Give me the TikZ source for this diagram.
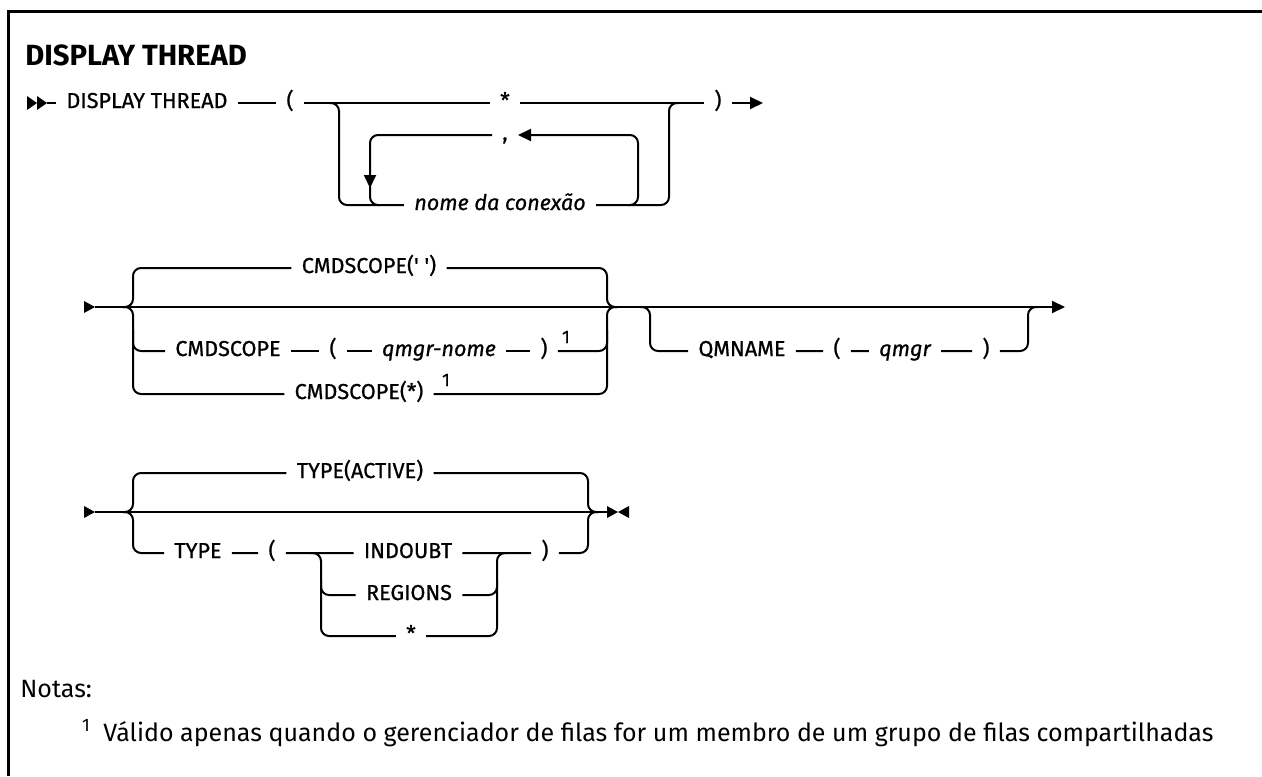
\documentclass[tikz,border=0pt]{standalone}
\usepackage{fontspec}
\setmainfont{Fira Sans}
\newfontfamily\railfont{Fira Sans}[RawFeature={embolden=0.8}]
\usetikzlibrary{arrows.meta}

\begin{document}
\begin{tikzpicture}[
        x=0.5pt, y=-0.5pt,
        >={Triangle[length=6.5pt,width=6pt]},
        % 铁路线
        rail/.style={line width=1pt, rounded corners=4pt},
        % 关键字
        kw/.style={font=\railfont\fontsize{10.8}{13}\selectfont, inner xsep=5pt, inner ysep=0pt, text height=8pt, text depth=3pt},
        % 变量
        var/.style={kw, font=\railfont\fontsize{10.8}{13}\selectfont\itshape},
        % 脚注编号
        sup/.style={font=\railfont\fontsize{9}{11}\selectfont, inner sep=0pt, anchor=base},
        title/.style={font=\fontsize{14.6}{17}\selectfont\bfseries, inner sep=0pt, anchor=base west},
        notetext/.style={font=\fontsize{12.5}{15}\selectfont, inner sep=0pt, anchor=base west}
    ]
    \useasboundingbox (0,0) rectangle (1262,776);

    % 外框
    \draw[line width=1.5pt] (8,776) -- (8,11) -- (1262,11);

    \node[title] (title) at (25,65) {DISPLAY THREAD};

    % --- 1. 第一行 ---
    \fill (27,96) -- (37,103) -- (27,110) -- cycle;
    \fill (37,96) -- (47,103) -- (37,110) -- cycle;
    \coordinate (st1) at (47,103);
    \coordinate (end1) at (763,103);

    \node[kw] (dt) at (147,103) {DISPLAY THREAD};
    \node[kw] (lp1) at (290,103) {(};
    \node[kw] (star1) at (505,103) {*};
    \node[kw] (rp1) at (718,103) {)};
    \node[kw] (comma) at (505,135) {,};
    \node[var] (conn) at (500,205) {nome da conexão};

    \draw[rail] (st1) -- (dt);
    \draw[rail] (dt) -- (lp1);
    \draw[rail] (lp1) -- (star1);
    \draw[rail] (star1) -- (rp1);
    \draw[rail,->] (rp1) -- (end1);

    % 分支
    \draw[rail] (329,103) -| (339,205) -- (conn);
    \draw[rail] (conn) -- (669,205) -- (669,103) -- (679,103);

    % 重复回路
    \draw[rail,->] (628,205) -| (638,135) -- (comma);
    \draw[rail,->] (comma) -| (370,188);
    \draw[rail] (370,184) |- (380,205);

    % --- 2. CMDSCOPE / QMNAME ---
    \fill (84,301) -- (95,307) -- (84,313) -- cycle;
    \coordinate (st2) at (95,307);
    \coordinate (end2) at (1065,307);
    \draw[rail,->] (st2) -- (end2);

    \node[kw] (cs1) at (369,268) {CMDSCOPE(\textquotesingle\ \textquotesingle)};
    \node[kw] (cs2) at (228,351) {CMDSCOPE};
    \node[kw] (lp2) at (333,351) {(};
    \node[var] (qn) at (439,351) {qmgr-nome};
    \node[kw] (rp2) at (544,351) {)};
    \node[sup] (n1a) at (566,343) {1};
    \node[kw] (cs3) at (359,394) {CMDSCOPE(*)};
    \node[sup] (n1b) at (446,386) {1};

    \draw[rail] (123,307) -| (133,268) -- (cs1) -- (607,268) -- (607,307) -- (617,307);
    \draw[rail] (123,307) -| (133,394) -- (cs3) -- (607,394) -- (607,307) -- (617,307);
    \draw[rail] (133,330) |- (cs2);
    \draw[rail] (cs2) -- (lp2);
    \draw[rail] (lp2) -- (qn);
    \draw[rail] (qn) -- (rp2);
    \draw[rail] (rp2) -| (607,330);

    \node[kw] (qm) at (742,351) {QMNAME};
    \node[kw] (lp3) at (837,351) {(};
    \node[var] (qv) at (905,351) {qmgr};
    \node[kw] (rp3) at (986,351) {)};
    \draw[rail] (640,307) -| (650,351) -- (qm) -- (lp3) -- (qv) -- (rp3) -- (1028,351) -- (1028,307) -- (1038,307);

    % --- 3. TYPE ---
    \fill (84,506) -- (95,512) -- (84,518) -- cycle;
    \coordinate (st3) at (95,512);
    \coordinate (end3) at (607,512);
    \draw[rail] (st3) -- (end3);
    \fill (607,506) -- (618,512) -- (607,518) -- cycle;
    \fill (629,506) -- (618,512) -- (629,518) -- cycle;

    \node[kw] (ta) at (360,473) {TYPE(ACTIVE)};
    \node[kw] (ty) at (198,553) {TYPE};
    \node[kw] (lp4) at (272,553) {(};
    \node[kw] (ind) at (408,553) {INDOUBT};
    \node[kw] (rp4) at (545,553) {)};
    \node[kw] (reg) at (409,595) {REGIONS};
    \node[kw] (st4) at (411,636) {*};

    \draw[rail] (123,512) -| (133,473) -- (ta) -- (588,473) -- (588,512) -- (598,512);
    \draw[rail] (123,512) -| (133,553) -- (ty) -- (lp4) -- (ind) -- (rp4) -- (588,553) -- (588,512) -- (598,512);
    \draw[rail] (311,553) -| (321,636) -- (st4) -- (497,636) -- (497,553) -- (507,553);
    \draw[rail] (321,580) |- (reg);
    \draw[rail] (reg) -| (497,580);

    % --- 4. 注释 ---
    \node[notetext] (notes) at (20,697) {Notas:};
    \node[sup, font=\fontsize{9}{11}\selectfont] (fnmark) at (86,731) {1};
    \node[notetext] (fn) at (103,741) {Válido apenas quando o gerenciador de filas for um membro de um grupo de filas compartilhadas};

\end{tikzpicture}
\end{document}
